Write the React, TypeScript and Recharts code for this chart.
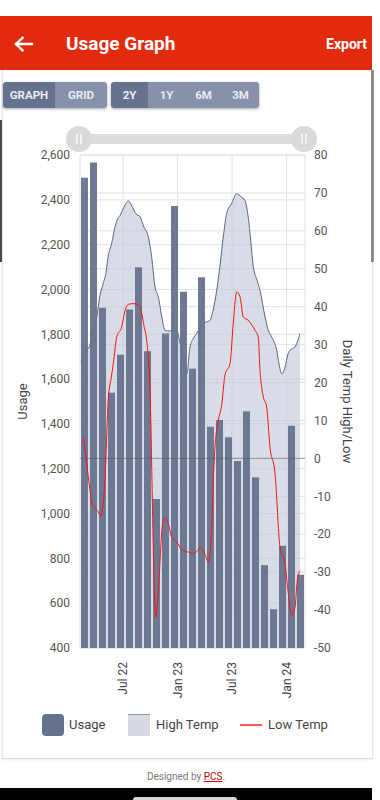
import React from 'react';
import {
  ComposedChart,
  Bar,
  Area,
  Line,
  XAxis,
  YAxis,
  CartesianGrid,
  ReferenceLine,
} from 'recharts';

// Monthly usage bars
const months = [
  'Feb 22', 'Mar 22', 'Apr 22', 'May 22', 'Jun 22', 'Jul 22', 'Aug 22', 'Sep 22',
  'Oct 22', 'Nov 22', 'Dec 22', 'Jan 23', 'Feb 23', 'Mar 23', 'Apr 23', 'May 23',
  'Jun 23', 'Jul 23', 'Aug 23', 'Sep 23', 'Oct 23', 'Nov 23', 'Dec 23', 'Jan 24', 'Feb 24',
];
const usage = [
  2498, 2567, 1918, 1539, 1709, 1911, 2099, 1724, 1065, 1804, 2372, 1990, 1646,
  2055, 1387, 1417, 1340, 1234, 1457, 1162, 770, 573, 856, 1392, 727,
];

// Time axis (in months from start)
const xTickPos = [4.8, 10.85, 16.9, 22.95];
const xTickLabels = ['Jul 22', 'Jan 23', 'Jul 23', 'Jan 24'];

const usageTicks = [400, 600, 800, 1000, 1200, 1400, 1600, 1800, 2000, 2200, 2400, 2600];
const tempTicks = [-50, -40, -30, -20, -10, 0, 10, 20, 30, 40, 50, 60, 70, 80];

// Daily temperature high
const highPos = [
  0.11, 0.44, 0.78, 1.11, 1.44, 1.86, 2.22, 2.56, 2.89, 3.11, 3.52, 3.89, 4.11, 4.44,
  5.0, 5.37, 5.78, 6.22, 6.67, 7.11, 7.59, 7.97, 8.33, 8.7, 9.11, 9.44, 10.0, 10.74,
  11.11, 11.48, 11.86, 12.22, 12.56, 12.97, 13.67, 14.44, 14.78, 15.19, 15.56, 15.92,
  16.3, 16.86, 17.41, 17.89, 18.33, 18.67, 18.89, 19.26, 19.67, 20.0, 20.56, 20.89,
  21.3, 21.86, 22.11, 22.41, 22.78, 23.11, 23.33, 23.89, 24.44,
];
const highTemp = [
  25.5, 27, 28.5, 30, 34, 37.3, 43, 46, 49, 53, 56.7, 61, 62.8, 64,
  66.8, 67.9, 66.5, 64.5, 63.7, 61, 58.4, 53, 45.2, 42.6, 37, 33.8, 33.6, 33.8,
  30.5, 26.7, 22.3, 29.4, 31.5, 33, 35.6, 36.4, 39, 44.3, 51, 58.4,
  64.6, 67.3, 69.8, 69, 68, 64, 59.4, 50.5, 47, 44.3, 37.3, 34,
  32, 28.5, 25, 22.3, 24, 27.5, 28.5, 29.4, 32.9,
];

// Daily temperature low
const lowPos = [
  0.37, 0.74, 1.11, 1.37, 1.74, 2.0, 2.33, 2.56, 2.78, 3.0, 3.15, 3.45, 3.7, 4.08,
  4.63, 5.0, 5.37, 5.89, 6.48, 6.86, 7.11, 7.41, 7.59, 7.78, 7.89, 8.03, 8.22, 8.44,
  8.61, 8.78, 9.14, 9.44, 9.81, 10.19, 10.74, 11.3, 12.03, 12.59, 13.0, 13.33, 13.7,
  14.0, 14.26, 14.63, 14.81, 15.0, 15.37, 15.74, 16.11, 16.67, 17.03, 17.41, 17.78,
  18.14, 18.7, 19.44, 19.81, 20.0, 20.17, 20.37, 20.74, 21.11, 21.67, 22.22, 22.78,
  23.15, 23.52, 23.89, 24.14, 24.44,
];
const lowTemp = [
  5.6, -1.3, -8.4, -12.4, -13.2, -14, -15.3, -12, -5.8, 8, 16, 21, 25, 32,
  34.6, 39, 40.6, 40.8, 40.6, 38.2, 35, 31.1, 26.7, 18, 7.4, -10.2, -32, -41.9,
  -38, -32, -18, -15.5, -17.2, -20.8, -22, -24, -24.7, -25.1, -24.5, -23.4, -24.3,
  -26, -27.4, -19, -5.8, 3, 10, 14, 22, 25, 35.6, 43.9, 42.6,
  37.3, 36.4, 33.8, 32, 23.2, 19, 16.2, 13.5, 3, -4, -23.4, -27.8,
  -35.7, -41.4, -39.2, -32.2, -29.6,
];

const barData = months.map((month, i) => ({ month, usage: usage[i] }));
const highData = highPos.map((m, i) => ({ m, t: highTemp[i] }));
const lowData = lowPos.map((m, i) => ({ m, t: lowTemp[i] }));

const BAR_COLOR = '#67728e';
const LIGHT_SEG = '#8891aa';

const RotTick = (props: any) => {
  const { x, y, payload } = props;
  const idx = xTickPos.indexOf(payload.value);
  const label = idx >= 0 ? xTickLabels[idx] : '';
  return (
    <text
      x={x}
      y={y}
      transform={`rotate(-90, ${x}, ${y})`}
      textAnchor="end"
      dy="0.35em"
      fontSize={12}
      fill="#444"
    >
      {label}
    </text>
  );
};

const LeftLabel = (props: any) => {
  const vb = props.viewBox || {};
  const cx = vb.x + 12;
  const cy = vb.y + vb.height / 2;
  return (
    <text x={cx} y={cy} transform={`rotate(-90, ${cx}, ${cy})`} textAnchor="middle" dy="0.35em" fontSize={13} fill="#444">
      Usage
    </text>
  );
};

const RightLabel = (props: any) => {
  const vb = props.viewBox || {};
  const cx = vb.x + 43;
  const cy = vb.y + vb.height / 2;
  return (
    <text x={cx} y={cy} transform={`rotate(90, ${cx}, ${cy})`} textAnchor="middle" dy="0.35em" fontSize={13} fill="#444">
      Daily Temp High/Low
    </text>
  );
};

const Seg = ({ label, w, active }: { label: string; w: number; active?: boolean }) => (
  <div
    style={{
      width: w,
      height: '100%',
      background: active ? BAR_COLOR : LIGHT_SEG,
      color: '#e9ecf3',
      fontSize: 11.5,
      fontWeight: 700,
      display: 'flex',
      alignItems: 'center',
      justifyContent: 'center',
    }}
  >
    {label}
  </div>
);

const Handle = ({ left }: { left: number }) => (
  <div
    style={{
      position: 'absolute',
      left,
      top: 126,
      width: 26,
      height: 26,
      borderRadius: '50%',
      background: '#d9d9d9',
    }}
  >
    <div style={{ position: 'absolute', left: 10, top: 8, width: 1.5, height: 10, background: '#f2f2f2' }} />
    <div style={{ position: 'absolute', left: 14, top: 8, width: 1.5, height: 10, background: '#f2f2f2' }} />
  </div>
);

export default function App() {
  return (
    <div
      style={{
        position: 'absolute',
        left: 0,
        top: 0,
        width: 380,
        height: 800,
        background: '#fff',
        fontFamily: 'Roboto, "Noto Sans", sans-serif',
        overflow: 'hidden',
      }}
    >
      {/* card */}
      <div
        style={{
          position: 'absolute',
          left: 2,
          top: 70,
          width: 369,
          height: 688,
          borderLeft: '1px solid #e6e6e6',
          borderRight: '1px solid #e6e6e6',
          borderBottom: '1px solid #dcdcdc',
          boxShadow: '0 1px 2px rgba(0,0,0,0.08)',
        }}
      />
      <div style={{ position: 'absolute', left: 0, top: 120, width: 1.5, height: 142, background: '#4a4a4a' }} />
      <div style={{ position: 'absolute', left: 371, top: 70, width: 2.5, height: 192, background: '#8c8c8c' }} />

      {/* header */}
      <div style={{ position: 'absolute', left: 0, top: 16, width: 372, height: 54, background: '#e22a0c' }} />
      <svg style={{ position: 'absolute', left: 14, top: 36 }} width={20} height={16}>
        <path d="M2 8 H18 M2 8 L8.5 1.8 M2 8 L8.5 14.2" stroke="#fff" strokeWidth={2.4} fill="none" strokeLinecap="square" />
      </svg>
      <div style={{ position: 'absolute', left: 66, top: 32, fontSize: 19, lineHeight: '24px', fontWeight: 700, color: '#fff' }}>
        Usage Graph
      </div>
      <div style={{ position: 'absolute', right: 13, top: 35, fontSize: 14, lineHeight: '18px', fontWeight: 700, color: '#fff' }}>
        Export
      </div>

      {/* buttons */}
      <div
        style={{
          position: 'absolute',
          left: 3,
          top: 82,
          height: 26,
          display: 'flex',
          borderRadius: 3,
          overflow: 'hidden',
          boxShadow: '0 1px 3px rgba(0,0,0,0.35)',
        }}
      >
        <Seg label="GRAPH" w={52} active />
        <Seg label="GRID" w={52} />
      </div>
      <div
        style={{
          position: 'absolute',
          left: 111,
          top: 82,
          height: 26,
          display: 'flex',
          borderRadius: 3,
          overflow: 'hidden',
          boxShadow: '0 1px 3px rgba(0,0,0,0.35)',
        }}
      >
        <Seg label="2Y" w={37} active />
        <Seg label="1Y" w={37} />
        <Seg label="6M" w={37} />
        <Seg label="3M" w={37} />
      </div>

      {/* slider */}
      <div style={{ position: 'absolute', left: 86, top: 134, width: 212, height: 10, background: '#dcdcdc', borderRadius: 2 }} />
      <Handle left={66} />
      <Handle left={291} />

      {/* chart */}
      <div style={{ position: 'absolute', left: 0, top: 140 }}>
        <ComposedChart width={372} height={560} data={barData} margin={{ top: 15, right: 12, bottom: 0, left: 10 }}>
          <CartesianGrid xAxisId="num" yAxisId="left" stroke="#e2e2e2" />
          <CartesianGrid xAxisId="num" yAxisId="right" stroke="#e2e2e2" vertical={false} />
          <XAxis xAxisId="cat" dataKey="month" hide height={0} />
          <XAxis
            xAxisId="num"
            type="number"
            dataKey="m"
            domain={[0, 25]}
            allowDataOverflow
            ticks={xTickPos}
            interval={0}
            tick={<RotTick />}
            tickMargin={8}
            axisLine={false}
            tickLine={false}
            height={52}
          />
          <YAxis
            yAxisId="left"
            width={70}
            domain={[400, 2600]}
            ticks={usageTicks}
            interval={0}
            allowDataOverflow
            tickFormatter={(v: number) => v.toLocaleString('en-US')}
            tick={{ fontSize: 12, fill: '#555' }}
            tickMargin={4}
            axisLine={false}
            tickLine={false}
            label={{ content: <LeftLabel /> } as any}
          />
          <YAxis
            yAxisId="right"
            orientation="right"
            width={55}
            domain={[-50, 80]}
            ticks={tempTicks}
            interval={0}
            allowDataOverflow
            tick={{ fontSize: 12, fill: '#555', textAnchor: 'start' }}
            tickMargin={3}
            axisLine={false}
            tickLine={false}
            label={{ content: <RightLabel /> } as any}
          />
          <Area
            xAxisId="num"
            yAxisId="right"
            data={highData}
            dataKey="t"
            type="monotone"
            stroke="#5b6683"
            strokeWidth={1}
            fill="#c3c9d8"
            fillOpacity={0.65}
            baseValue="dataMin"
            dot={false}
            activeDot={false}
            isAnimationActive={false}
          />
          <Bar
            xAxisId="cat"
            yAxisId="left"
            dataKey="usage"
            fill={BAR_COLOR}
            fillOpacity={0.95}
            barSize={7}
            isAnimationActive={false}
          />
          <Line
            xAxisId="num"
            yAxisId="right"
            data={lowData}
            dataKey="t"
            type="monotone"
            stroke="#ff1010"
            strokeWidth={1}
            dot={false}
            activeDot={false}
            isAnimationActive={false}
          />
          <ReferenceLine xAxisId="num" yAxisId="right" y={0} stroke="#555" strokeOpacity={0.5} />
        </ComposedChart>
      </div>

      {/* legend */}
      <div style={{ position: 'absolute', left: 42, top: 714, width: 22, height: 22, borderRadius: 4, background: BAR_COLOR }} />
      <div style={{ position: 'absolute', left: 69, top: 716, fontSize: 13, lineHeight: '18px', color: '#444' }}>Usage</div>
      <div
        style={{
          position: 'absolute',
          left: 128,
          top: 714,
          width: 22,
          height: 21,
          background: '#d6dae3',
          borderTop: '1.5px solid #8a93a9',
        }}
      />
      <div style={{ position: 'absolute', left: 156, top: 716, fontSize: 13, lineHeight: '18px', color: '#444' }}>High Temp</div>
      <div style={{ position: 'absolute', left: 240, top: 724, width: 22, height: 2, background: '#ff5a5a' }} />
      <div style={{ position: 'absolute', left: 268, top: 716, fontSize: 13, lineHeight: '18px', color: '#444' }}>Low Temp</div>

      {/* footer */}
      <div style={{ position: 'absolute', left: 0, width: 372, top: 771, textAlign: 'center', fontSize: 10, lineHeight: '12px', color: '#777' }}>
        Designed by <span style={{ color: '#c40000', textDecoration: 'underline' }}>PCS</span>.
      </div>
      <div style={{ position: 'absolute', left: 0, top: 788, width: 372, height: 12, background: '#000' }} />
      <div style={{ position: 'absolute', left: 133, top: 797, width: 104, height: 6, borderRadius: 3, background: '#d8d8d8' }} />
    </div>
  );
}
